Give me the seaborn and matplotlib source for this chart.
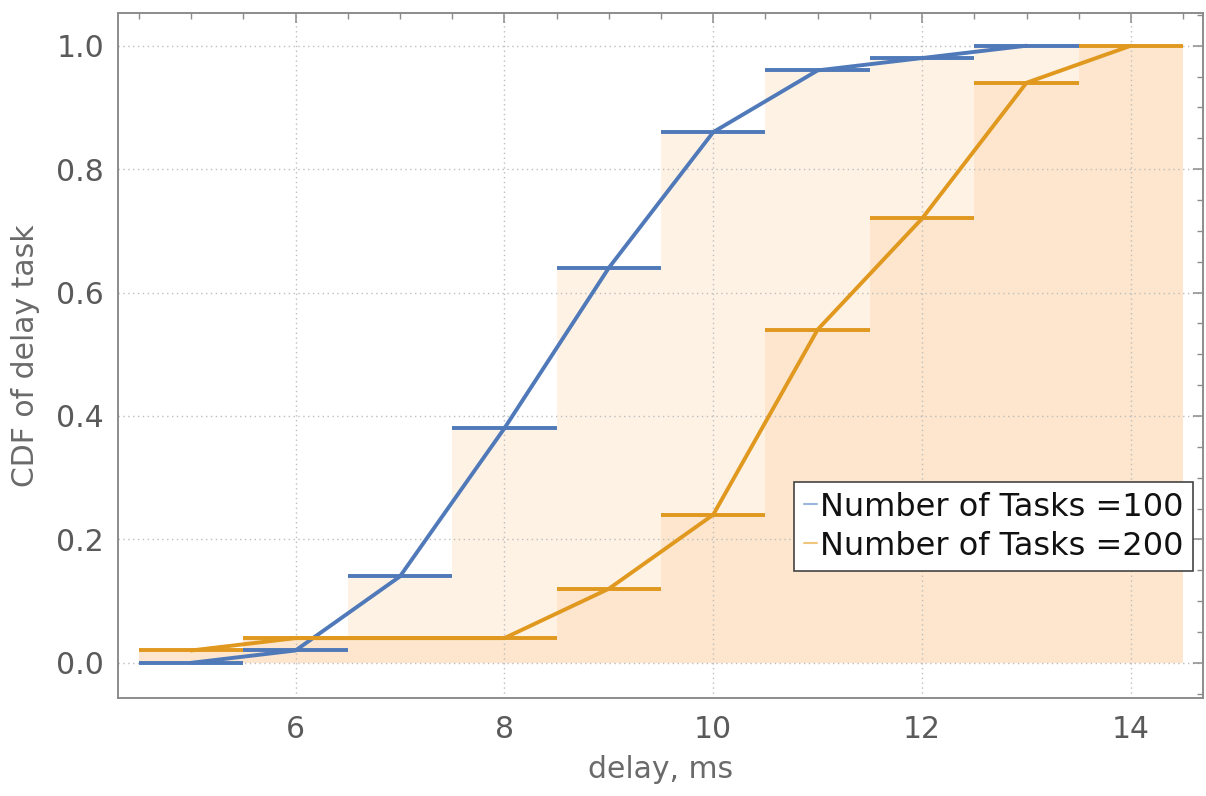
import numpy as np
import pandas as pd
import matplotlib
matplotlib.use("Agg")
import matplotlib.pyplot as plt
from matplotlib.lines import Line2D
from matplotlib.ticker import MultipleLocator, FormatStrFormatter
import seaborn as sns

# delay bins (ms) and empirical CDF values for each task count
delay = [5, 6, 7, 8, 9, 10, 11, 12, 13, 14]
cdf_100 = [0.00, 0.02, 0.14, 0.38, 0.64, 0.86, 0.96, 0.98, 1.00, None]
cdf_200 = [0.02, 0.04, 0.04, 0.04, 0.12, 0.24, 0.54, 0.72, 0.94, 1.00]
series_labels = ["Number of Tasks =100", "Number of Tasks =200"]

blue = "#4f79b8"
orange = "#e0981f"
fill_light = "#fef2e4"
fill_dark = "#fde6cd"

sns.set_theme(style="white")
plt.rcParams["font.family"] = ["DejaVu Sans"]

df = pd.DataFrame({"delay": delay, "n100": cdf_100, "n200": cdf_200})
long = df.melt(id_vars="delay", value_vars=["n100", "n200"],
               var_name="series", value_name="cdf").dropna()
long["series"] = long["series"].map({"n100": series_labels[0],
                                     "n200": series_labels[1]})

fig = plt.figure(figsize=(12.06, 7.96), dpi=100)
ax = fig.add_axes([118 / 1206, 1 - 698 / 796, (1203 - 118) / 1206, (698 - 13) / 796])

d100 = df.dropna(subset=["n100"])
# histogram-style fills under each step
ax.bar(d100["delay"], d100["n100"], width=1.0, color=fill_light, zorder=1, linewidth=0)
ax.bar(df["delay"], df["n200"], width=1.0, color=fill_dark, zorder=1.1, linewidth=0)

# step bars for each bin
lw = 2.8
ax.hlines(d100["n100"], d100["delay"] - 0.5, d100["delay"] + 0.5,
          color=blue, lw=lw, zorder=3)
ax.hlines(df["n200"], df["delay"] - 0.5, df["delay"] + 0.5,
          color=orange, lw=lw, zorder=3.2)

# connecting polylines through bin centres
sns.lineplot(data=long, x="delay", y="cdf", hue="series",
             palette=[blue, orange], lw=lw, ax=ax, legend=False,
             zorder=3.1, sort=True)

ax.set_xlim(4.3, 14.69)
ax.set_ylim(-0.057, 1.053)
ax.xaxis.set_major_locator(MultipleLocator(2))
ax.xaxis.set_minor_locator(MultipleLocator(0.5))
ax.yaxis.set_major_locator(MultipleLocator(0.2))
ax.yaxis.set_minor_locator(MultipleLocator(0.05))
ax.yaxis.set_major_formatter(FormatStrFormatter("%.1f"))

ax.set_axisbelow(False)
ax.grid(True, which="major", color="#bdbdbd", linestyle=(0, (1, 2.5)), lw=1.0, zorder=2)

frame_color = "#8c8c8c"
for sp in ax.spines.values():
    sp.set_color(frame_color)
    sp.set_linewidth(1.4)
    sp.set_zorder(5)

ax.tick_params(which="both", direction="in", top=True, right=True,
               color=frame_color, labelcolor="#5a5a5a", labelsize=21.5)
ax.tick_params(axis="y", pad=10)
ax.tick_params(axis="x", pad=12)
ax.tick_params(which="major", length=7, width=1.1)
ax.tick_params(which="minor", length=4, width=1.0)

ax.set_xlabel("delay, ms", fontsize=21.5, color="#6a6a6a", labelpad=8)
ax.set_ylabel("CDF of delay task", fontsize=21.5, color="#6a6a6a", labelpad=12)

handles = [Line2D([], [], color="#9db5dc", lw=1.5),
           Line2D([], [], color="#f0c57e", lw=1.5)]
leg = ax.legend(handles, series_labels, loc="upper right",
                bbox_to_anchor=(1193 / 1206, 1 - 482 / 796),
                bbox_transform=fig.transFigure, fontsize=23,
                handlelength=0.4, handletextpad=0.1, borderpad=0.3,
                labelspacing=0.25, fancybox=False, framealpha=1,
                borderaxespad=0)
leg.get_frame().set_edgecolor("#444444")
leg.get_frame().set_linewidth(1.2)
leg.set_zorder(6)
for t in leg.get_texts():
    t.set_color("#111111")

fig.savefig("out.png", dpi=100, facecolor="white")
